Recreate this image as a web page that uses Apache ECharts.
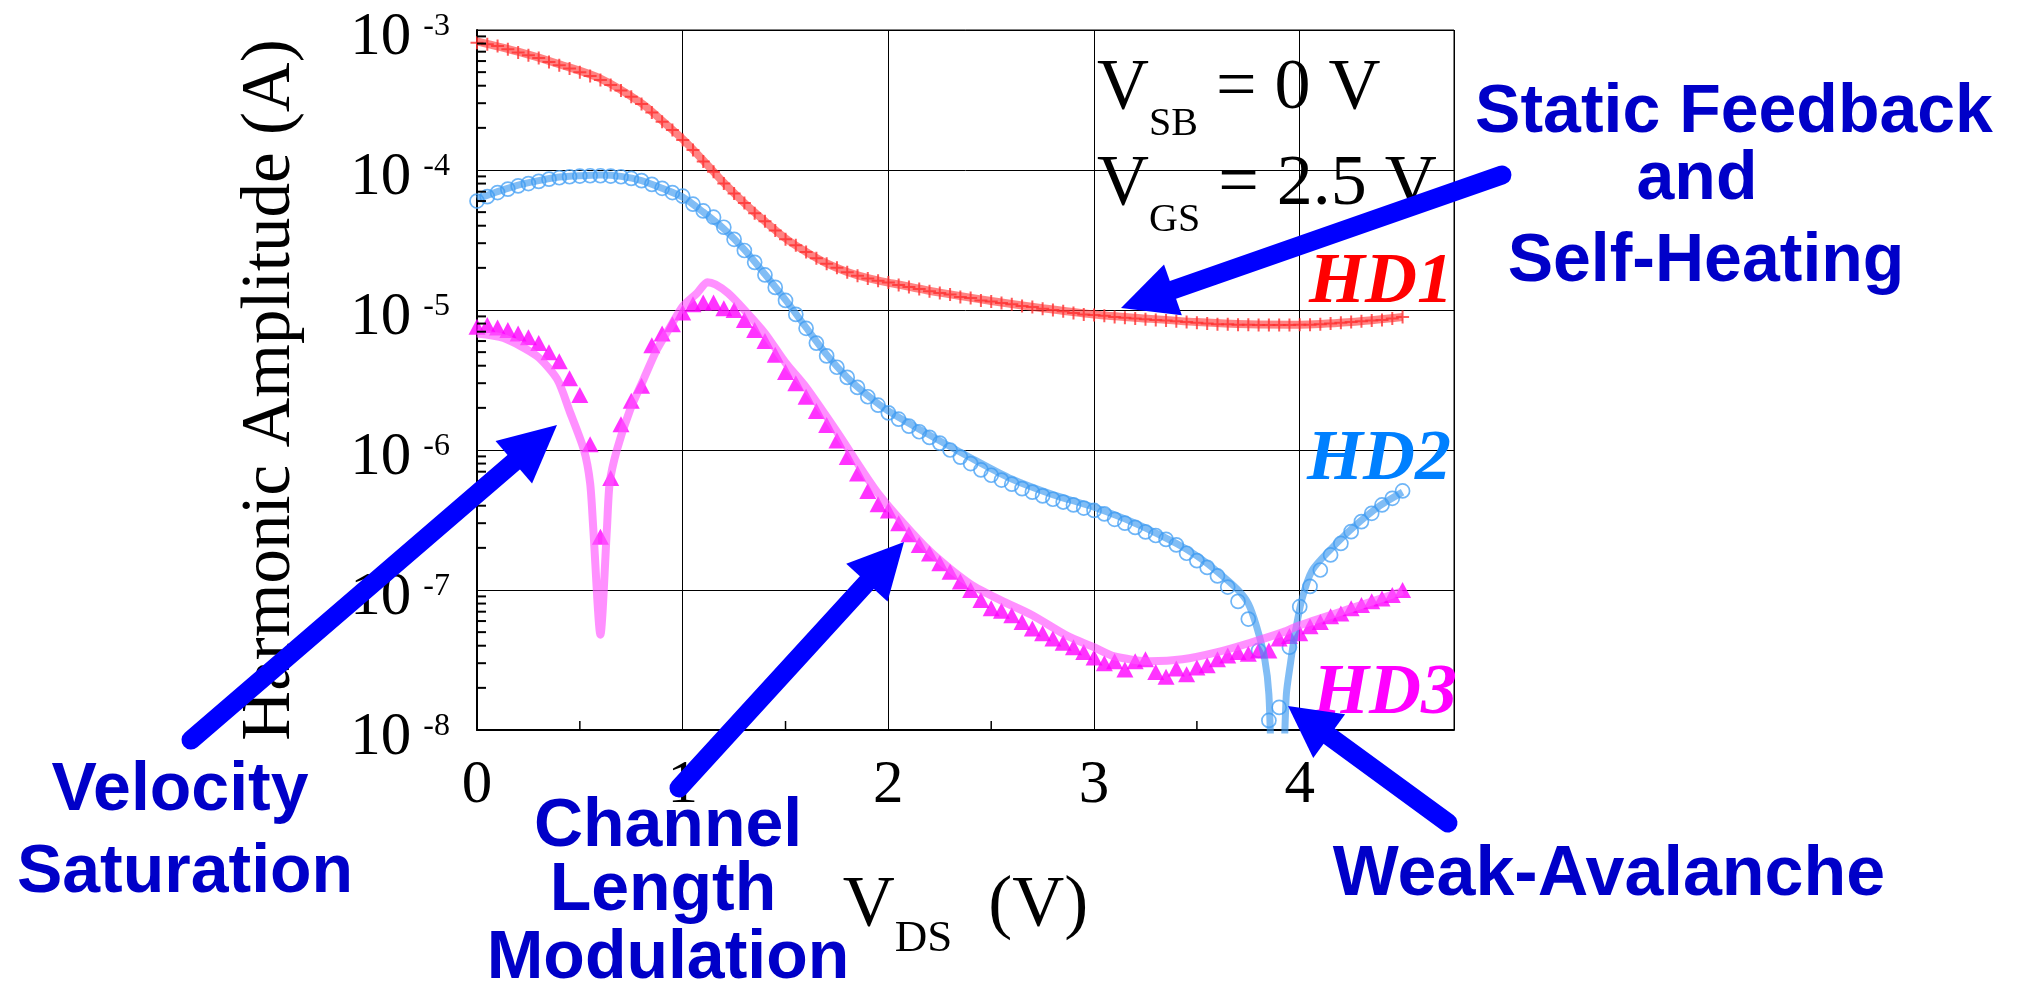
<!DOCTYPE html>
<html>
<head>
<meta charset="utf-8">
<script src="https://cdn.jsdelivr.net/npm/echarts@6.0.0/dist/echarts.min.js"></script>
<style>
  html, body { margin: 0; padding: 0; background: #ffffff; }
  #chart { width: 2018px; height: 988px; }
</style>
</head>
<body>
<div id="chart"></div>
<script>
// Drain bias sweep of the measured points (V)
const VDS = [
  0.00, 0.05, 0.10, 0.15, 0.20, 0.25, 0.30, 0.35, 0.40, 0.45,
  0.50, 0.55, 0.60, 0.65, 0.70, 0.75, 0.80, 0.85, 0.90, 0.95,
  1.00, 1.05, 1.10, 1.15, 1.20, 1.25, 1.30, 1.35, 1.40, 1.45,
  1.50, 1.55, 1.60, 1.65, 1.70, 1.75, 1.80, 1.85, 1.90, 1.95,
  2.00, 2.05, 2.10, 2.15, 2.20, 2.25, 2.30, 2.35, 2.40, 2.45,
  2.50, 2.55, 2.60, 2.65, 2.70, 2.75, 2.80, 2.85, 2.90, 2.95,
  3.00, 3.05, 3.10, 3.15, 3.20, 3.25, 3.30, 3.35, 3.40, 3.45,
  3.50, 3.55, 3.60, 3.65, 3.70, 3.75, 3.80, 3.85, 3.90, 3.95,
  4.00, 4.05, 4.10, 4.15, 4.20, 4.25, 4.30, 4.35, 4.40, 4.45,
  4.50
];

// Measured harmonic amplitudes (A)
const HD1_MEAS = [
  8.1e-4, 7.9e-4, 7.7e-4, 7.3e-4, 6.9e-4, 6.6e-4, 6.3e-4, 5.9e-4, 5.6e-4, 5.3e-4,
  5.0e-4, 4.7e-4, 4.4e-4, 4.05e-4, 3.7e-4, 3.34e-4, 2.96e-4, 2.57e-4, 2.21e-4, 1.93e-4,
  1.64e-4, 1.39e-4, 1.15e-4, 9.7e-5, 8.0e-5, 6.8e-5, 5.8e-5, 4.9e-5, 4.3e-5, 3.7e-5,
  3.2e-5, 2.9e-5, 2.6e-5, 2.34e-5, 2.14e-5, 2.0e-5, 1.86e-5, 1.76e-5, 1.68e-5, 1.62e-5,
  1.57e-5, 1.51e-5, 1.46e-5, 1.41e-5, 1.36e-5, 1.32e-5, 1.29e-5, 1.24e-5, 1.22e-5, 1.17e-5,
  1.15e-5, 1.12e-5, 1.10e-5, 1.07e-5, 1.05e-5, 1.02e-5, 1.0e-5, 9.8e-6, 9.5e-6, 9.3e-6,
  9.2e-6, 9.1e-6, 8.9e-6, 8.8e-6, 8.7e-6, 8.6e-6, 8.5e-6, 8.4e-6, 8.3e-6, 8.2e-6,
  8.1e-6, 8.0e-6, 7.9e-6, 7.9e-6, 7.85e-6, 7.85e-6, 7.8e-6, 7.8e-6, 7.8e-6, 7.8e-6,
  7.85e-6, 7.85e-6, 7.9e-6, 8.0e-6, 8.1e-6, 8.2e-6, 8.3e-6, 8.4e-6, 8.5e-6, 8.7e-6,
  8.9e-6
];
const HD2_MEAS = [
  6.0e-5, 6.45e-5, 6.9e-5, 7.3e-5, 7.7e-5, 8.0e-5, 8.3e-5, 8.6e-5, 8.8e-5, 8.95e-5,
  9.05e-5, 9.1e-5, 9.1e-5, 9.05e-5, 8.95e-5, 8.7e-5, 8.4e-5, 7.9e-5, 7.4e-5, 6.9e-5,
  6.5e-5, 5.7e-5, 5.1e-5, 4.6e-5, 3.9e-5, 3.2e-5, 2.66e-5, 2.19e-5, 1.78e-5, 1.45e-5,
  1.17e-5, 9.3e-6, 7.4e-6, 5.8e-6, 4.7e-6, 3.9e-6, 3.3e-6, 2.8e-6, 2.4e-6, 2.09e-6,
  1.84e-6, 1.66e-6, 1.48e-6, 1.35e-6, 1.23e-6, 1.12e-6, 1.0e-6, 8.9e-7, 8.0e-7, 7.2e-7,
  6.6e-7, 6.1e-7, 5.7e-7, 5.3e-7, 5.0e-7, 4.7e-7, 4.45e-7, 4.25e-7, 4.05e-7, 3.85e-7,
  3.7e-7, 3.5e-7, 3.2e-7, 3.0e-7, 2.8e-7, 2.6e-7, 2.45e-7, 2.3e-7, 2.1e-7, 1.83e-7,
  1.62e-7, 1.45e-7, 1.26e-7, 1.05e-7, 8.3e-8, 6.2e-8, 3.7e-8, 1.17e-8, 1.45e-8, 3.9e-8,
  7.6e-8, 1.06e-7, 1.39e-7, 1.78e-7, 2.15e-7, 2.61e-7, 3.08e-7, 3.53e-7, 4.05e-7, 4.52e-7,
  5.1e-7
];
const HD3_MEAS = [
  7.6e-6, 7.8e-6, 7.5e-6, 7.2e-6, 6.8e-6, 6.4e-6, 5.8e-6, 5.0e-6, 4.3e-6, 3.25e-6,
  2.47e-6, 1.10e-6, 2.4e-7, 6.3e-7, 1.53e-6, 2.25e-6, 2.88e-6, 5.6e-6, 6.8e-6, 7.9e-6,
  9.6e-6, 1.10e-5, 1.13e-5, 1.13e-5, 1.03e-5, 1.0e-5, 8.5e-6, 7.2e-6, 6.0e-6, 4.8e-6,
  3.6e-6, 3.0e-6, 2.4e-6, 1.9e-6, 1.51e-6, 1.17e-6, 8.9e-7, 6.8e-7, 5.1e-7, 4.1e-7,
  3.7e-7, 3.0e-7, 2.5e-7, 2.1e-7, 1.82e-7, 1.55e-7, 1.35e-7, 1.15e-7, 1.0e-7, 8.5e-8,
  7.4e-8, 7.1e-8, 6.6e-8, 5.9e-8, 5.3e-8, 4.9e-8, 4.5e-8, 4.2e-8, 3.9e-8, 3.6e-8,
  3.3e-8, 3.0e-8, 3.1e-8, 2.7e-8, 3.1e-8, 3.2e-8, 2.6e-8, 2.4e-8, 2.75e-8, 2.5e-8,
  2.8e-8, 2.9e-8, 3.2e-8, 3.4e-8, 3.6e-8, 3.5e-8, 3.7e-8, 3.7e-8, 4.5e-8, 4.7e-8,
  4.9e-8, 5.5e-8, 5.9e-8, 6.5e-8, 6.8e-8, 7.4e-8, 7.8e-8, 8.3e-8, 8.7e-8, 9.2e-8,
  1.0e-7
];

// Simulated curves: bias points (V) and amplitudes (A)
const HD1_SIM_V = [0, 0.2, 0.4, 0.6, 0.8, 0.9, 1.0, 1.1, 1.2, 1.3, 1.4, 1.5, 1.6, 1.7, 1.8, 1.9,
  2.0, 2.25, 2.5, 2.75, 3.0, 3.25, 3.5, 3.75, 4.0, 4.25, 4.5];
const HD1_SIM_A = [8.3e-4, 7.0e-4, 5.7e-4, 4.5e-4, 3.0e-4, 2.25e-4, 1.66e-4, 1.17e-4, 8.1e-5, 5.8e-5,
  4.3e-5, 3.25e-5, 2.6e-5, 2.15e-5, 1.87e-5, 1.69e-5, 1.57e-5, 1.33e-5, 1.16e-5, 1.03e-5,
  9.3e-6, 8.7e-6, 8.2e-6, 7.9e-6, 7.85e-6, 8.2e-6, 8.9e-6];

const HD2_SIM_V = [0, 0.1, 0.2, 0.3, 0.4, 0.5, 0.6, 0.7, 0.8, 0.9, 1.0, 1.1, 1.2, 1.3, 1.4, 1.5,
  1.6, 1.7, 1.8, 1.9, 2.0, 2.2, 2.4, 2.6, 2.8, 3.0, 3.2, 3.4, 3.5, 3.6, 3.7, 3.75, 3.79, 3.83,
  3.85, 3.862, 3.89, 3.922, 3.935, 3.955, 3.975, 4.01, 4.06, 4.15, 4.26, 4.39, 4.5];
const HD2_SIM_A = [6.2e-5, 7.0e-5, 7.8e-5, 8.4e-5, 8.9e-5, 9.1e-5, 9.2e-5, 9.0e-5, 8.4e-5, 7.4e-5,
  6.4e-5, 5.0e-5, 3.8e-5, 2.7e-5, 1.8e-5, 1.18e-5, 7.5e-6, 4.8e-6, 3.3e-6, 2.45e-6, 1.9e-6,
  1.28e-6, 8.8e-7, 6.2e-7, 4.8e-7, 3.9e-7, 3.0e-7, 2.15e-7, 1.75e-7, 1.35e-7, 1.0e-7, 8.0e-8,
  5.5e-8, 3.2e-8, 1.8e-8, 5e-9, 1e-10, 5e-9, 1.8e-8, 3.0e-8, 4.7e-8, 8.5e-8, 1.38e-7, 1.95e-7,
  2.8e-7, 4.0e-7, 5.0e-7];

const HD3_SIM_V = [0, 0.13, 0.29, 0.39, 0.45, 0.52, 0.55, 0.565, 0.6, 0.632, 0.645, 0.68, 0.744,
  0.81, 0.874, 0.94, 1.0, 1.07, 1.12, 1.16, 1.22, 1.3, 1.4, 1.5, 1.6, 1.75, 1.95, 2.2, 2.4, 2.55,
  2.7, 2.87, 3.0, 3.1, 3.27, 3.43, 3.6, 3.76, 3.92, 4.0, 4.25, 4.5];
const HD3_SIM_A = [6.8e-6, 6.3e-6, 4.7e-6, 3.2e-6, 1.9e-6, 1.0e-6, 5.8e-7, 2.8e-7, 4.8e-8, 2.8e-7,
  5.8e-7, 1.0e-6, 1.93e-6, 3.2e-6, 5.2e-6, 7.6e-6, 1.06e-5, 1.32e-5, 1.58e-5, 1.52e-5, 1.32e-5,
  1.0e-5, 6.8e-6, 4.2e-6, 2.8e-6, 1.35e-6, 4.9e-7, 1.9e-7, 1.1e-7, 8.4e-8, 6.6e-8, 4.7e-8, 3.9e-8,
  3.35e-8, 3.1e-8, 3.2e-8, 3.6e-8, 4.2e-8, 5.0e-8, 5.6e-8, 7.4e-8, 9.8e-8];

// Axis ranges and minor tick positions
const X_MIN = 0, X_MAX = 4.75, X_STEP = 1;
const Y_MIN = 1e-8, Y_MAX = 1e-3;
const X_MINOR = [0.5, 1.5, 2.5, 3.5];
const Y_MINOR_FACTORS = [2, 3, 4, 5, 6, 7, 8, 9];
const Y_DECADES = [1e-8, 1e-7, 1e-6, 1e-5, 1e-4];

const SERIF = '"Liberation Serif", "Times New Roman", serif';
const SANS = '"Liberation Sans", Arial, sans-serif';
const ANNOT_COLOR = '#0000c8';
const ARROW_COLOR = '#0000ff';

const zip = (xs, ys) => xs.map((x, i) => [x, ys[i]]);
const yMinorTicks = [];
Y_DECADES.forEach(d => Y_MINOR_FACTORS.forEach(f => yMinorTicks.push([X_MIN, f * d])));
const xMinorTicks = X_MINOR.map(x => [x, Y_MIN]);

const PLUS = 'path://M5.5,0h2v5.5h5.5v2h-5.5v5.5h-2v-5.5h-5.5v-2h5.5z';

// Block arrow: round-capped shaft plus triangular head ending at the tip
function arrow(tail, tip, headLen, headHalf, shaft) {
  const dx = tip[0] - tail[0], dy = tip[1] - tail[1];
  const len = Math.hypot(dx, dy);
  const ux = dx / len, uy = dy / len, nx = -uy, ny = ux;
  const bx = tip[0] - ux * headLen, by = tip[1] - uy * headLen;
  return [
    { type: 'line', z: 100, silent: true,
      shape: { x1: tail[0], y1: tail[1], x2: bx + ux * 6, y2: by + uy * 6 },
      style: { stroke: ARROW_COLOR, lineWidth: shaft, lineCap: 'round' } },
    { type: 'polygon', z: 100, silent: true,
      shape: { points: [tip, [bx + nx * headHalf, by + ny * headHalf], [bx - nx * headHalf, by - ny * headHalf]] },
      style: { fill: ARROW_COLOR } }
  ];
}

function label(text, x, y, opts, extra) {
  return Object.assign({ type: 'text', x: x, y: y, z: 90, silent: true,
    style: Object.assign({ text: text, align: 'center', verticalAlign: 'middle' }, opts) }, extra || {});
}
const annot = { fontFamily: SANS, fontWeight: 'bold', fontSize: 68, fill: ANNOT_COLOR };
const hdStyle = c => ({ fontFamily: SERIF, fontWeight: 'bold', fontStyle: 'italic', fontSize: 72, fill: c, align: 'left' });
// Main glyphs hang from the top of the line box; the subscript sits on its bottom
const biasRich = {
  v: { fontFamily: SERIF, fontSize: 72, lineHeight: 72, verticalAlign: 'top', fill: '#000' },
  s: { fontFamily: SERIF, fontSize: 40, lineHeight: 91, verticalAlign: 'bottom', fill: '#000' }
};

const chart = echarts.init(document.getElementById('chart'), null, { renderer: 'canvas' });

chart.setOption({
  animation: false,
  backgroundColor: '#ffffff',
  grid: { left: 477, top: 30, width: 977, height: 700, show: true, borderColor: '#000', borderWidth: 1, backgroundColor: 'transparent' },
  xAxis: {
    type: 'value', min: X_MIN, max: X_MAX, interval: X_STEP,
    axisLine: { show: true, onZero: false, lineStyle: { color: '#000', width: 2 } },
    axisTick: { show: false },
    splitLine: { show: true, lineStyle: { color: '#000', width: 1 } },
    axisLabel: {
      margin: 25, color: '#000', fontFamily: SERIF, fontSize: 61, lineHeight: 61,
      showMaxLabel: false,
      formatter: v => (Math.abs(v - Math.round(v)) < 1e-9 ? String(Math.round(v)) : '')
    },
    name: '{v|V}{d|DS}{v|  (V)}',
    nameLocation: 'middle', nameGap: 140, nameMoveOverlap: false,
    nameTextStyle: {
      rich: {
        v: { fontFamily: SERIF, fontSize: 72, lineHeight: 72, verticalAlign: 'top', color: '#000' },
        d: { fontFamily: SERIF, fontSize: 45, lineHeight: 92, verticalAlign: 'bottom', color: '#000' }
      }
    }
  },
  yAxis: {
    type: 'log', logBase: 10, min: Y_MIN, max: Y_MAX,
    axisLine: { show: true, lineStyle: { color: '#000', width: 2 } },
    axisTick: { show: false },
    splitLine: { show: true, lineStyle: { color: '#000', width: 1 } },
    axisLabel: {
      margin: 27, padding: [15, 0, 0, 0],
      formatter: v => '{b|10}{s|' + Math.round(Math.log10(v)) + '}',
      rich: {
        b: { fontFamily: SERIF, fontSize: 61, lineHeight: 61, color: '#000' },
        s: { fontFamily: SERIF, fontSize: 32, lineHeight: 32, verticalAlign: 'top', padding: [4, 0, 0, 12], color: '#000' }
      }
    }
  },
  series: [
    { type: 'custom', name: 'y minor ticks', silent: true, z: 5, clip: false, data: yMinorTicks,
      renderItem: (params, api) => {
        const p = api.coord([api.value(0), api.value(1)]);
        return { type: 'line', shape: { x1: p[0], y1: p[1], x2: p[0] + 9, y2: p[1] },
                 style: { stroke: '#000', lineWidth: 2 } };
      } },
    { type: 'custom', name: 'x minor ticks', silent: true, z: 5, clip: false, data: xMinorTicks,
      renderItem: (params, api) => {
        const p = api.coord([api.value(0), api.value(1)]);
        return { type: 'line', shape: { x1: p[0], y1: p[1], x2: p[0], y2: p[1] - 9 },
                 style: { stroke: '#000', lineWidth: 1.5 } };
      } },
    { type: 'scatter', name: 'HD1 meas', data: zip(VDS, HD1_MEAS), symbol: PLUS, symbolSize: 13,
      itemStyle: { color: '#ff3030' }, z: 2, silent: true },
    { type: 'scatter', name: 'HD2 meas', data: zip(VDS, HD2_MEAS), symbol: 'circle', symbolSize: 14,
      itemStyle: { color: 'rgba(0,0,0,0)', borderColor: '#4aa2f5', borderWidth: 1.7 }, z: 2, silent: true },
    { type: 'scatter', name: 'HD3 meas', data: zip(VDS, HD3_MEAS), symbol: 'triangle', symbolSize: [17, 16],
      itemStyle: { color: '#ff00ff' }, z: 2, silent: true },
    { type: 'line', name: 'HD1 sim', data: zip(HD1_SIM_V, HD1_SIM_A), symbol: 'none', smooth: 0.3,
      lineStyle: { color: '#ff3030', width: 8, opacity: 0.6 }, z: 3, silent: true },
    { type: 'line', name: 'HD2 sim', data: zip(HD2_SIM_V, HD2_SIM_A), symbol: 'none', smooth: 0.25,
      lineStyle: { color: '#3d9af0', width: 7, opacity: 0.65 }, z: 3, silent: true },
    { type: 'line', name: 'HD3 sim', data: zip(HD3_SIM_V, HD3_SIM_A), symbol: 'none', smooth: 0.25,
      lineStyle: { color: '#ff55ff', width: 8, opacity: 0.65 }, z: 3, silent: true }
  ],
  graphic: [].concat(
    [
      label('Harmonic Amplitude (A)', 271, 390,
        { fontFamily: SERIF, fontSize: 69, fill: '#000' }, { rotation: Math.PI / 2, z: 10 }),
      label('{v|V}{s|SB}{v| = 0 V}', 1097, 99, { align: 'left', rich: biasRich }),
      label('{v|V}{s|GS}{v| = 2.5 V}', 1097, 195, { align: 'left', rich: biasRich }),
      label('HD1', 1309, 283, hdStyle('#ff0000')),
      label('HD2', 1307, 460, hdStyle('#0080ff')),
      label('HD3', 1313, 694, hdStyle('#ff00ff')),
      label('Static Feedback', 1734, 113, annot),
      label('and', 1697, 180, annot),
      label('Self-Heating', 1706, 262, annot),
      label('Velocity', 180, 791, annot),
      label('Saturation', 185, 873, annot),
      label('Channel', 668, 827, annot),
      label('Length', 663, 891, annot),
      label('Modulation', 668, 959, annot),
      label('Weak-Avalanche', 1609, 876, Object.assign({}, annot, { fontSize: 70 }))
    ],
    arrow([1502, 175], [1121, 308], 55, 27, 19),
    arrow([191, 740], [557, 425], 57, 28, 19),
    arrow([679, 788], [904, 542], 55, 28, 19),
    arrow([1448, 823], [1288, 706], 51, 27, 19)
  )
});
</script>
</body>
</html>
